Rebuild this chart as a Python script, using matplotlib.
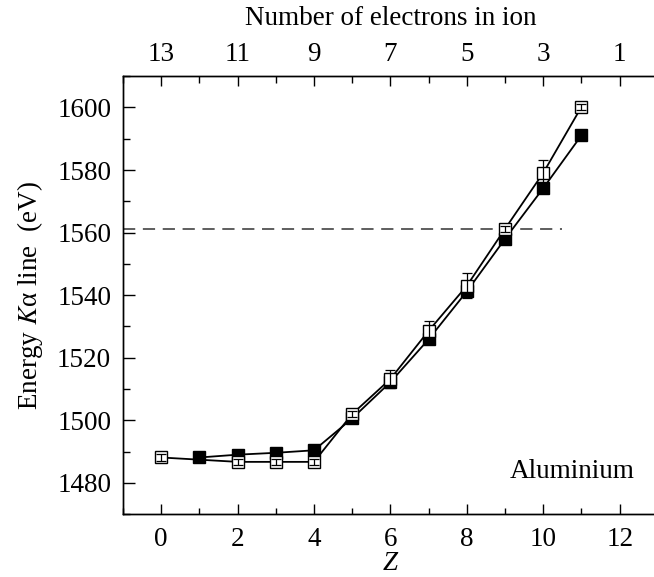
import matplotlib
matplotlib.use('Agg')
from matplotlib import pyplot as plt
from matplotlib.ticker import MultipleLocator, FixedLocator

'''Ka line energies of aluminium ions, read off the figure'''
z_open = [0, 2, 3, 4, 5, 6, 7, 8, 9, 10, 11]
e_open = [1488.1, 1486.7, 1486.7, 1486.7, 1502.0, 1513.2, 1528.6, 1543.0, 1561.2, 1579.1, 1600.2]
err_open = [1.0, 1.0, 1.0, 1.0, 1.0, 3.0, 3.0, 4.0, 1.0, 4.0, 1.0]

z_full = [1, 2, 3, 4, 5, 6, 7, 8, 9, 10, 11]
e_full = [1488.1, 1489.0, 1489.6, 1490.4, 1500.6, 1512.2, 1525.9, 1541.2, 1558.0, 1574.2, 1591.1]

e_ref = 1561.3
z_ref_end = 10.5

top_ticks = [0, 2, 4, 6, 8, 10, 12]
top_labels = ['13', '11', '9', '7', '5', '3', '1']

plt.rcParams['font.family'] = ['Liberation Serif', 'DejaVu Serif']
plt.rcParams['mathtext.fontset'] = 'stix'
plt.rcParams['font.size'] = 19.5

fig = plt.figure(figsize=(6.54, 5.77), dpi=100)
ax = fig.add_axes([0.188, 0.109, 0.818, 0.759])

ax.plot(z_full, e_full, color='black', lw=1.3, marker='s', ms=9,
        mfc='black', mec='black', zorder=3)
ax.plot(z_open, e_open, color='black', lw=1.3, marker='s', ms=9,
        mfc='white', mec='black', mew=1.0, zorder=4)
# error bars on top of the open squares, so the small ones show inside
ax.errorbar(z_open, e_open, yerr=err_open, fmt='none', ecolor='black',
            elinewidth=0.9, capsize=3.5, capthick=0.9, zorder=5)

ax.plot([-1, z_ref_end], [e_ref, e_ref], color='#333333', lw=1.1,
        dashes=(8, 5), zorder=2)

ax.set_xlim(-1, 13)
ax.set_ylim(1470, 1610)

ax.xaxis.set_major_locator(MultipleLocator(2))
ax.xaxis.set_minor_locator(MultipleLocator(1))
ax.yaxis.set_major_locator(MultipleLocator(20))
ax.yaxis.set_minor_locator(MultipleLocator(10))
ax.tick_params(which='both', direction='in', top=False, right=False, width=1.0)
ax.tick_params(axis='x', which='major', length=7.5, pad=9)
ax.tick_params(axis='x', which='minor', length=4.5)
ax.tick_params(axis='y', which='major', length=8.5, pad=8.5)
ax.tick_params(axis='y', which='minor', length=5)

ax.set_ylabel(r'Energy $K$α line  (eV)', labelpad=9)
# Z label sits right at the bottom edge, as in the original
fig.text(0.597, 0.002, 'Z', style='italic', ha='center', va='bottom')

ax2 = ax.twiny()
ax2.set_xlim(ax.get_xlim())
ax2.xaxis.set_major_locator(FixedLocator(top_ticks))
ax2.set_xticklabels(top_labels)
ax2.xaxis.set_minor_locator(MultipleLocator(1))
ax2.tick_params(which='both', direction='in', width=1.0, pad=6.5)
ax2.tick_params(which='major', length=7.5)
ax2.tick_params(which='minor', length=5)
ax2.set_xlabel('Number of electrons in ion', labelpad=12)

ax.text(10.75, 1483.5, 'Aluminium', ha='center', va='center')

for a in (ax, ax2):
    for s in a.spines.values():
        s.set_linewidth(1.0)

fig.savefig('out.png', dpi=100)
